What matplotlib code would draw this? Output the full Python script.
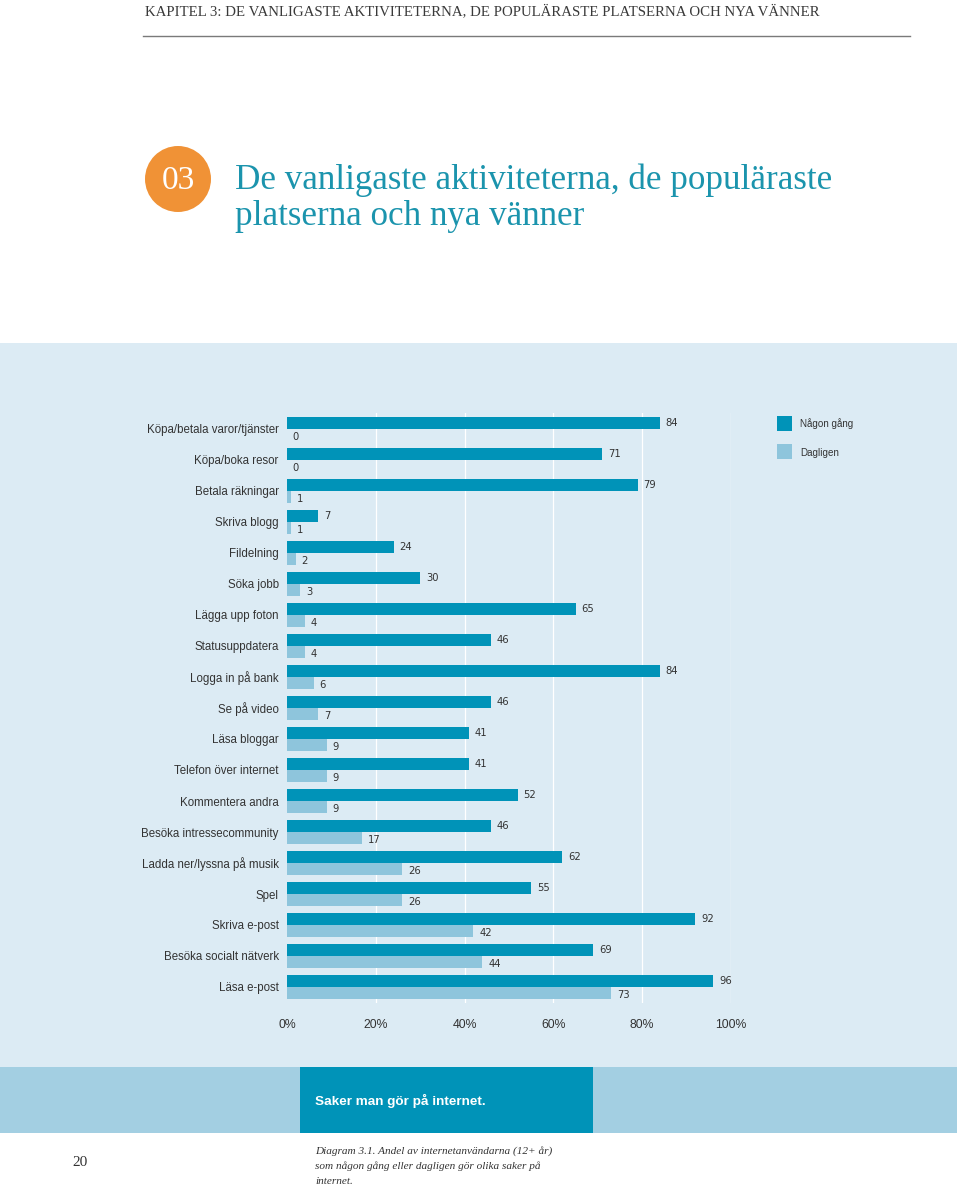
import matplotlib
matplotlib.use("Agg")
import matplotlib.pyplot as plt
from matplotlib.patches import Rectangle, Ellipse
import numpy as np

categories = [
    "Köpa/betala varor/tjänster", "Köpa/boka resor", "Betala räkningar",
    "Skriva blogg", "Fildelning", "Söka jobb", "Lägga upp foton",
    "Statusuppdatera", "Logga in på bank", "Se på video", "Läsa bloggar",
    "Telefon över internet", "Kommentera andra", "Besöka intressecommunity",
    "Ladda ner/lyssna på musik", "Spel", "Skriva e-post",
    "Besöka socialt nätverk", "Läsa e-post",
]
nagon_gang = [84, 71, 79, 7, 24, 30, 65, 46, 84, 46, 41, 41, 52, 46, 62, 55, 92, 69, 96]
dagligen = [0, 0, 1, 1, 2, 3, 4, 4, 6, 7, 9, 9, 9, 17, 26, 26, 42, 44, 73]
xticks = [0, 20, 40, 60, 80, 100]
xtick_labels = ["0%", "20%", "40%", "60%", "80%", "100%"]
series_names = ["Någon gång", "Dagligen"]

W, H = 960, 1187
DARK = "#0093b8"
LIGHT = "#8ec5dc"
PANEL = "#dcebf4"
BAND = "#a3cfe2"
TEAL_TXT = "#1b94ad"
ORANGE = "#f09236"
TXT = "#333333"
SANS = ["Liberation Sans", "DejaVu Sans"]
SERIF = ["Liberation Serif", "DejaVu Serif"]

fig = plt.figure(figsize=(W / 100, H / 100), dpi=100)
fig.patch.set_facecolor("white")


def fx(px):
    return px / W


def fy(py):
    return 1 - py / H


def frect(x0, y0, x1, y1, color, z=0):
    fig.patches.append(Rectangle((fx(x0), fy(y1)), fx(x1) - fx(x0), fy(y0) - fy(y1),
                                 transform=fig.transFigure, facecolor=color,
                                 edgecolor="none", zorder=z))


# Header
fig.text(fx(145), fy(11), "KAPITEL 3: DE VANLIGASTE AKTIVITETERNA, DE POPULÄRASTE PLATSERNA OCH NYA VÄNNER",
         family=SERIF, fontsize=10.7, color="#3a3a3a", ha="left", va="center")
fig.add_artist(plt.Line2D([fx(143), fx(910)], [fy(36), fy(36)], transform=fig.transFigure,
                          color="#7a7a7a", lw=1.0))

# Chapter circle and title
cax = fig.add_axes([fx(145), fy(212), fx(66), 66 / H])
cax.set_xlim(0, 1)
cax.set_ylim(0, 1)
cax.axis("off")
cax.add_patch(Ellipse((0.5, 0.5), 1, 1, facecolor=ORANGE, edgecolor="none"))
cax.text(0.5, 0.47, "03", family=SERIF, fontsize=24, color="white", ha="center", va="center")

fig.text(fx(235), fy(180), "De vanligaste aktiviteterna, de populäraste",
         family=SERIF, fontsize=25.2, color=TEAL_TXT, ha="left", va="center")
fig.text(fx(235), fy(216), "platserna och nya vänner",
         family=SERIF, fontsize=25.2, color=TEAL_TXT, ha="left", va="center")

# Panel background
frect(0, 343, 957, 1067, PANEL, z=-5)
frect(0, 1067, 957, 1133, BAND, z=-5)
frect(300, 1067, 593, 1133, DARK, z=-4)
fig.text(fx(315), fy(1101), "Saker man gör på internet.", family=SANS, fontsize=9.7,
         fontweight="bold", color="white", ha="left", va="center")

# Page number & caption
fig.text(fx(80), fy(1163), "20", family=SERIF, fontsize=11, color=TXT, ha="center", va="center")
cap = ["Diagram 3.1. Andel av internetanvändarna (12+ år)",
       "som någon gång eller dagligen gör olika saker på",
       "internet."]
for k, line in enumerate(cap):
    fig.text(fx(315), fy(1151 + 15 * k), line, family=SERIF, style="italic", fontsize=8.1,
             color=TXT, ha="left", va="center")

# Chart axes
ax_top, ax_bot = 413.5, 1002.5
ax = fig.add_axes([fx(287), fy(ax_bot), fx(731) - fx(287), (ax_bot - ax_top) / H])
ax.set_facecolor("none")
n = len(categories)
y = np.arange(n)
bh = 12 / 31
ax.barh(y - bh / 2, nagon_gang, height=bh, color=DARK, zorder=3)
ax.barh(y + bh / 2, dagligen, height=bh, color=LIGHT, zorder=3)
for i in range(n):
    ax.text(nagon_gang[i] + 1.3, y[i] - bh / 2, str(nagon_gang[i]), family=["DejaVu Sans"],
            fontsize=7.2, color=TXT, ha="left", va="center", clip_on=False)
    ax.text(dagligen[i] + 1.3, y[i] + bh / 2 + 0.06, str(dagligen[i]), family=["DejaVu Sans"],
            fontsize=7.2, color=TXT, ha="left", va="center", clip_on=False)
ax.set_xlim(0, 100)
ax.set_ylim(n - 0.5, -0.5)
ax.set_yticks(y)
ax.set_yticklabels(categories, family=SANS, fontsize=8.3, color=TXT)
ax.set_xticks(xticks)
ax.set_xticklabels(xtick_labels, family=SANS, fontsize=8.8, color=TXT)
ax.tick_params(axis="both", length=0)
ax.tick_params(axis="y", pad=6)
ax.tick_params(axis="x", pad=12)
for xv in xticks[1:]:
    ax.axvline(xv, color="white", lw=0.9, zorder=1)
for s in ax.spines.values():
    s.set_visible(False)

# Legend
frect(777, 416, 792, 431, DARK)
frect(777, 444, 792, 459, LIGHT)
fig.text(fx(800), fy(424), series_names[0], family=SANS, fontsize=7.1, color=TXT, ha="left", va="center")
fig.text(fx(800), fy(453), series_names[1], family=SANS, fontsize=7.1, color=TXT, ha="left", va="center")

fig.savefig("out.png", dpi=100, facecolor="white")
